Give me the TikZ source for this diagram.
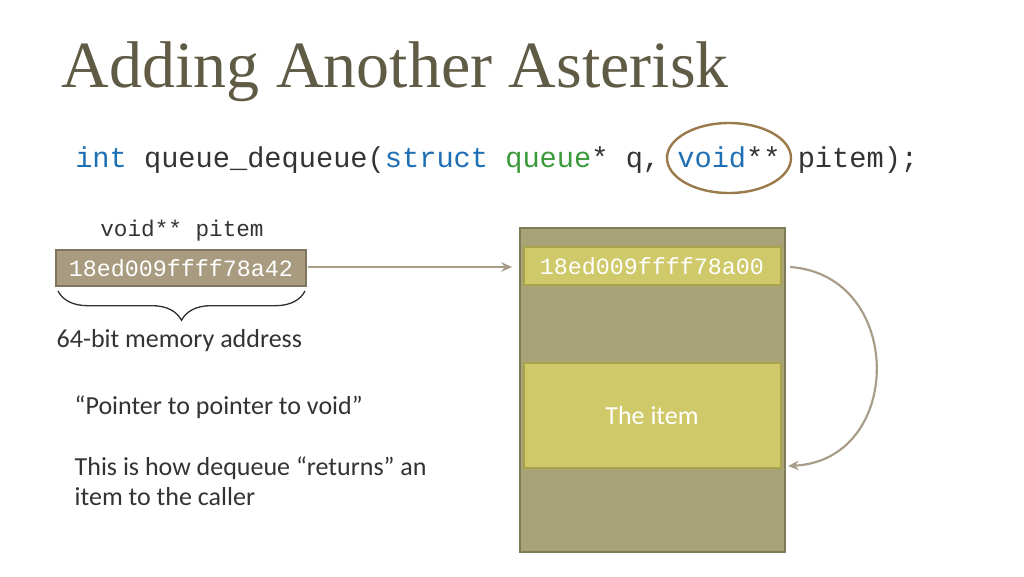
\documentclass[tikz,border=0pt]{standalone}
\usepackage{fontspec}
\setmainfont{Carlito}
\newfontfamily\titlefont{Liberation Serif}
\setmonofont{Liberation Mono}
\usetikzlibrary{decorations.pathreplacing,arrows.meta}
\definecolor{titlec}{HTML}{5F5B45}
\definecolor{kw}{HTML}{1F6FB5}
\definecolor{ty}{HTML}{3A9A3A}
\definecolor{outerf}{HTML}{A8A377}
\definecolor{outerd}{HTML}{7E7B58}
\definecolor{slotf}{HTML}{CFC96A}
\definecolor{slotd}{HTML}{A9A34C}
\definecolor{ptrf}{HTML}{A89B80}
\definecolor{ptrd}{HTML}{7F745E}
\definecolor{arr}{HTML}{A89B88}
\definecolor{ring}{HTML}{9A7A4A}
\definecolor{txt}{HTML}{333333}
\begin{document}
\begin{tikzpicture}[x=0.75pt,y=-0.75pt,
  slot/.style={draw=slotd,fill=slotf,line width=1.8pt,text=white},
  conn/.style={draw=arr,line width=1.6pt,-{Stealth[length=8pt,width=7pt]}},
  body/.style={anchor=west,text=txt,font=\fontsize{19.5}{22}\selectfont,align=left}]
\useasboundingbox (0,0) rectangle (1024,576);
\fill[white] (0,0) rectangle (1024,576);
\node[anchor=west,text=titlec,font=\titlefont\fontsize{49.5}{54}\selectfont] (title) at (57,72) {Adding Another Asterisk};
\node[anchor=west,text=txt,font=\ttfamily\fontsize{21.5}{24}\selectfont,inner sep=0] (code) at (75,160)
 {\textcolor{kw}{int} queue\_dequeue(\textcolor{kw}{struct} \textcolor{ty}{queue}* q, \textcolor{kw}{void}** pitem);};
\draw[ring,line width=1.8pt] (729,158) ellipse (62 and 35);
\node[text=txt,font=\ttfamily\fontsize{17}{20}\selectfont] (lbl) at (182,231) {void** pitem};
\draw[draw=ptrd,fill=ptrf,line width=1.8pt] (56,250) rectangle (306,286);
\node[text=white,font=\ttfamily\fontsize{17.5}{20}\selectfont] (ptr) at (181,268) {18ed009ffff78a42};
\coordinate (bl) at (58,291); \coordinate (br) at (305,291);
\draw[txt,line width=1pt,decorate,decoration={brace,mirror,amplitude=22pt}] (bl) -- (br);
\node[body] (bits) at (52,341) {64-bit memory address};
\node[body] (q1) at (70,407) {“Pointer to pointer to void”};
\node[body,font=\fontsize{19.5}{22.5}\selectfont] (q2) at (70,481) {This is how dequeue “returns” an\\item to the caller};
\draw[draw=outerd,fill=outerf,line width=2.2pt] (520,228) rectangle (785,552);
\draw[slot] (524,247) rectangle (781,285);
\node[text=white,font=\ttfamily\fontsize{17.5}{20}\selectfont] (addr) at (652,266) {18ed009ffff78a00};
\draw[slot] (524,363) rectangle (781,468);
\node[text=white,font=\fontsize{19.5}{22}\selectfont] (item) at (652,416) {The item};
\coordinate (pe) at (308,267); \coordinate (se) at (512,267);
\draw[conn] (pe) -- (se);
\coordinate (c1) at (790,267); \coordinate (c2) at (788,466);
\draw[conn] (c1) .. controls (905,275) and (905,460) .. (c2);
\end{tikzpicture}
\end{document}
